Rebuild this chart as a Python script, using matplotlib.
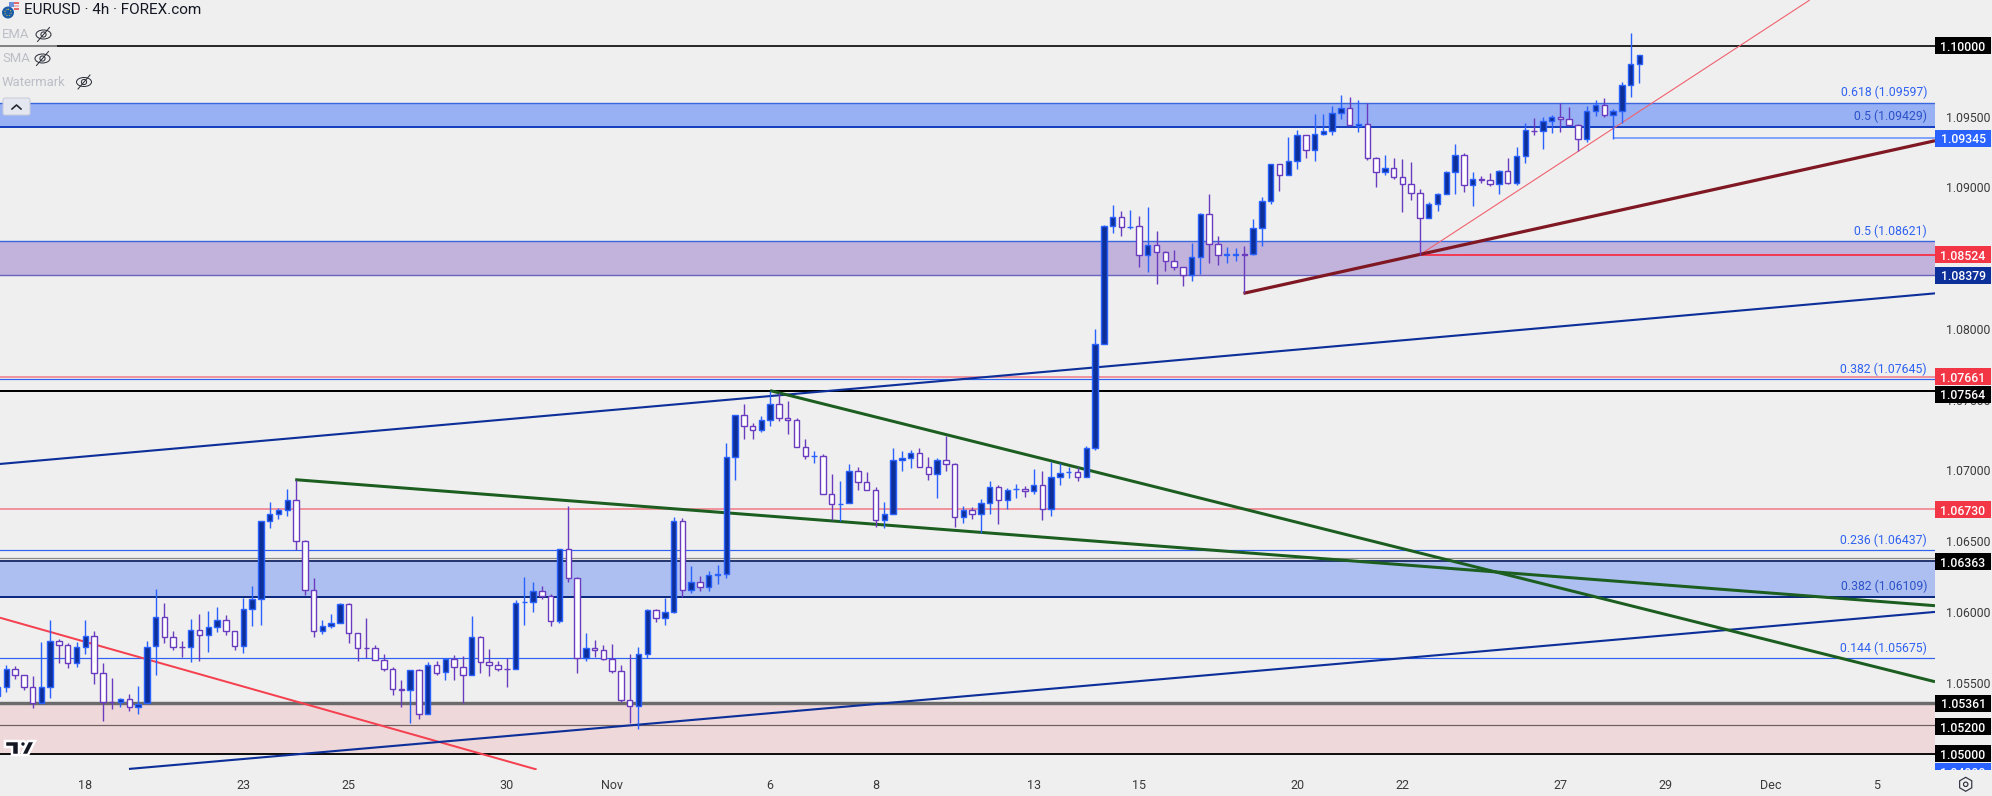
import matplotlib
matplotlib.use('Agg')
import numpy as np
import matplotlib.pyplot as plt
from matplotlib.patches import Rectangle, Circle, Ellipse, FancyBboxPatch, RegularPolygon, Polygon

plt.rcParams['font.family'] = ['Roboto', 'DejaVu Sans']

# 4h candles (first one is cut by the left edge)
opens = [
    1.05407,
    1.05468, 1.05596, 1.05553, 1.05468, 1.05355, 1.05468, 1.05793, 1.05765, 1.05638, 1.05751,
    1.05829, 1.05567, 1.05363, 1.05363, 1.05384, 1.05327, 1.05355, 1.05758, 1.05963, 1.05822,
    1.05756, 1.05751, 1.05871, 1.05836, 1.05892, 1.05942, 1.05864, 1.05758, 1.06019, 1.06090,
    1.06641, 1.06690, 1.06718, 1.06789, 1.06499, 1.06153, 1.05864, 1.05899, 1.05920, 1.06055,
    1.05850, 1.05744, 1.05744, 1.05659, 1.05596, 1.05454, 1.05447, 1.05589, 1.05278, 1.05624,
    1.05574, 1.05669, 1.05614, 1.05553, 1.05822, 1.05645, 1.05624, 1.05600, 1.05596, 1.06068,
    1.06069, 1.06146, 1.06111, 1.05935, 1.06448, 1.06238, 1.05673, 1.05744, 1.05730, 1.05666,
    1.05581, 1.05381, 1.05334, 1.05701, 1.06012, 1.05956, 1.05998, 1.06641, 1.06153, 1.06210,
    1.06175, 1.06265, 1.06266, 1.07093, 1.07389, 1.07312, 1.07283, 1.07354, 1.07467, 1.07368,
    1.07354, 1.07168, 1.07100, 1.07100, 1.06831, 1.06765, 1.06768, 1.06994, 1.06916, 1.06860,
    1.06648, 1.06690, 1.07072, 1.07086, 1.07121, 1.07022, 1.06973, 1.07072, 1.07043, 1.06669,
    1.06718, 1.06690, 1.06768, 1.06881, 1.06789, 1.06868, 1.06867, 1.06853, 1.06895, 1.06725,
    1.06951, 1.06986, 1.06987, 1.06951, 1.07156, 1.07891, 1.08724, 1.08788, 1.08721, 1.08724,
    1.08519, 1.08590, 1.08540, 1.08477, 1.08434, 1.08378, 1.08505, 1.08809, 1.08597, 1.08525,
    1.08525, 1.08526, 1.08526, 1.08710, 1.08901, 1.09162, 1.09084, 1.09183, 1.09367, 1.09261,
    1.09374, 1.09395, 1.09522, 1.09557, 1.09430, 1.09444, 1.09204, 1.09105, 1.09134, 1.09070,
    1.09021, 1.08957, 1.08781, 1.08879, 1.08950, 1.09105, 1.09225, 1.09014, 1.09056, 1.09049,
    1.09021, 1.09112, 1.09028, 1.09218, 1.09398, 1.09395, 1.09466, 1.09494, 1.09480, 1.09437,
    1.09338, 1.09536, 1.09579, 1.09508, 1.09536, 1.09720, 1.09868,
]
highs = [
    1.05468,
    1.05626, 1.05619, 1.05553, 1.05548, 1.05789, 1.05944, 1.05812, 1.05784, 1.05789, 1.05944,
    1.05864, 1.05638, 1.05534, 1.05393, 1.05421, 1.05478, 1.05793, 1.06161, 1.06062, 1.05864,
    1.05793, 1.05951, 1.05986, 1.06008, 1.06036, 1.05979, 1.05869, 1.06099, 1.06184, 1.06641,
    1.06777, 1.06735, 1.06869, 1.06933, 1.06509, 1.06238, 1.05944, 1.05986, 1.06066, 1.06062,
    1.05850, 1.05956, 1.05765, 1.05704, 1.05610, 1.05520, 1.05589, 1.05598, 1.05645, 1.05657,
    1.05669, 1.05697, 1.05690, 1.05972, 1.05831, 1.05739, 1.05652, 1.05673, 1.06085, 1.06248,
    1.06212, 1.06184, 1.06128, 1.06448, 1.06749, 1.06250, 1.05850, 1.05803, 1.05767, 1.05774,
    1.05626, 1.05704, 1.05751, 1.06022, 1.06022, 1.06099, 1.06669, 1.06662, 1.06325, 1.06255,
    1.06290, 1.06332, 1.07192, 1.07389, 1.07469, 1.07333, 1.07382, 1.07564, 1.07549, 1.07491,
    1.07368, 1.07220, 1.07137, 1.07114, 1.06975, 1.06926, 1.07046, 1.07022, 1.06989, 1.06881,
    1.06777, 1.07156, 1.07135, 1.07144, 1.07156, 1.07093, 1.07086, 1.07246, 1.07050, 1.06749,
    1.06740, 1.06796, 1.06923, 1.06895, 1.06874, 1.06904, 1.06890, 1.07010, 1.06994, 1.07057,
    1.07050, 1.07027, 1.07022, 1.07173, 1.07999, 1.08736, 1.08875, 1.08830, 1.08839, 1.08797,
    1.08858, 1.08691, 1.08550, 1.08557, 1.08434, 1.08604, 1.08816, 1.08952, 1.08656, 1.08576,
    1.08569, 1.08583, 1.08773, 1.08929, 1.09162, 1.09162, 1.09355, 1.09402, 1.09367, 1.09517,
    1.09517, 1.09571, 1.09652, 1.09637, 1.09616, 1.09593, 1.09211, 1.09228, 1.09207, 1.09200,
    1.09178, 1.08988, 1.08896, 1.08959, 1.09115, 1.09305, 1.09242, 1.09108, 1.09077, 1.09098,
    1.09122, 1.09207, 1.09284, 1.09454, 1.09489, 1.09496, 1.09510, 1.09593, 1.09567, 1.09444,
    1.09574, 1.09616, 1.09630, 1.09550, 1.09741, 1.10089, 1.09932,
]
lows = [
    1.05407,
    1.05438, 1.05530, 1.05450, 1.05325, 1.05355, 1.05393, 1.05643, 1.05605, 1.05614, 1.05704,
    1.05492, 1.05233, 1.05318, 1.05327, 1.05304, 1.05280, 1.05355, 1.05558, 1.05784, 1.05732,
    1.05685, 1.05647, 1.05657, 1.05718, 1.05859, 1.05840, 1.05732, 1.05713, 1.05904, 1.05909,
    1.06594, 1.06657, 1.06678, 1.06438, 1.06121, 1.05826, 1.05845, 1.05890, 1.05920, 1.05784,
    1.05657, 1.05673, 1.05659, 1.05581, 1.05417, 1.05332, 1.05219, 1.05247, 1.05278, 1.05558,
    1.05520, 1.05520, 1.05355, 1.05553, 1.05572, 1.05548, 1.05586, 1.05473, 1.05596, 1.05909,
    1.06000, 1.06095, 1.05902, 1.05925, 1.06212, 1.05572, 1.05657, 1.05685, 1.05661, 1.05570,
    1.05365, 1.05219, 1.05172, 1.05673, 1.05930, 1.05909, 1.05991, 1.06109, 1.06137, 1.06151,
    1.06151, 1.06198, 1.06243, 1.06935, 1.07222, 1.07222, 1.07269, 1.07316, 1.07352, 1.07260,
    1.07163, 1.07083, 1.07055, 1.06831, 1.06650, 1.06645, 1.06768, 1.06862, 1.06860, 1.06603,
    1.06596, 1.06690, 1.06996, 1.07020, 1.07022, 1.06933, 1.06806, 1.06996, 1.06603, 1.06631,
    1.06660, 1.06561, 1.06695, 1.06622, 1.06730, 1.06808, 1.06815, 1.06834, 1.06653, 1.06681,
    1.06897, 1.06949, 1.06928, 1.06951, 1.07144, 1.07891, 1.08679, 1.08658, 1.08708, 1.08439,
    1.08404, 1.08319, 1.08411, 1.08416, 1.08305, 1.08340, 1.08387, 1.08467, 1.08453, 1.08463,
    1.08482, 1.08251, 1.08519, 1.08587, 1.08884, 1.08976, 1.09084, 1.09131, 1.09209, 1.09188,
    1.09367, 1.09367, 1.09484, 1.09437, 1.09393, 1.09190, 1.09004, 1.09089, 1.09056, 1.08828,
    1.08910, 1.08522, 1.08781, 1.08835, 1.08950, 1.08952, 1.08966, 1.08868, 1.09030, 1.09009,
    1.08952, 1.09023, 1.09016, 1.09171, 1.09371, 1.09270, 1.09386, 1.09393, 1.09437, 1.09254,
    1.09320, 1.09503, 1.09499, 1.09343, 1.09451, 1.09640, 1.09734,
]
closes = [
    1.05468,
    1.05596, 1.05553, 1.05468, 1.05355, 1.05468, 1.05793, 1.05765, 1.05638, 1.05751, 1.05829,
    1.05567, 1.05363, 1.05362, 1.05384, 1.05327, 1.05353, 1.05756, 1.05963, 1.05822, 1.05756,
    1.05755, 1.05871, 1.05836, 1.05892, 1.05942, 1.05864, 1.05758, 1.06019, 1.06090, 1.06641,
    1.06690, 1.06718, 1.06789, 1.06499, 1.06153, 1.05864, 1.05899, 1.05920, 1.06055, 1.05850,
    1.05744, 1.05743, 1.05659, 1.05596, 1.05454, 1.05453, 1.05589, 1.05278, 1.05624, 1.05572,
    1.05669, 1.05614, 1.05553, 1.05822, 1.05645, 1.05624, 1.05600, 1.05599, 1.06062, 1.06069,
    1.06146, 1.06111, 1.05935, 1.06448, 1.06238, 1.05673, 1.05744, 1.05730, 1.05666, 1.05581,
    1.05381, 1.05334, 1.05701, 1.06012, 1.05956, 1.05998, 1.06641, 1.06153, 1.06210, 1.06175,
    1.06259, 1.06266, 1.07093, 1.07389, 1.07312, 1.07283, 1.07354, 1.07467, 1.07368, 1.07354,
    1.07168, 1.07100, 1.07101, 1.06831, 1.06761, 1.06766, 1.06994, 1.06916, 1.06860, 1.06648,
    1.06690, 1.07072, 1.07086, 1.07121, 1.07022, 1.06973, 1.07072, 1.07043, 1.06669, 1.06718,
    1.06690, 1.06768, 1.06881, 1.06789, 1.06860, 1.06869, 1.06853, 1.06895, 1.06725, 1.06951,
    1.06980, 1.06987, 1.06951, 1.07156, 1.07891, 1.08724, 1.08788, 1.08717, 1.08722, 1.08519,
    1.08590, 1.08540, 1.08477, 1.08434, 1.08378, 1.08505, 1.08809, 1.08597, 1.08519, 1.08526,
    1.08526, 1.08525, 1.08710, 1.08901, 1.09162, 1.09084, 1.09183, 1.09367, 1.09261, 1.09374,
    1.09395, 1.09522, 1.09557, 1.09437, 1.09444, 1.09204, 1.09105, 1.09134, 1.09070, 1.09021,
    1.08957, 1.08781, 1.08879, 1.08950, 1.09105, 1.09225, 1.09014, 1.09056, 1.09055, 1.09021,
    1.09112, 1.09028, 1.09218, 1.09402, 1.09397, 1.09466, 1.09494, 1.09480, 1.09437, 1.09338,
    1.09536, 1.09579, 1.09508, 1.09536, 1.09720, 1.09868, 1.09932,
]

# date labels on the time axis, by bar number
date_bars = [9, 27, 39, 57, 69, 87, 99, 117, 129, 147, 159, 177, 189, 201, 213]
date_labels = ['18', '23', '25', '30', 'Nov', '6', '8', '13', '15', '20', '22', '27', '29', 'Dec', '5']

# 1.05, 1.085 and 1.10 sit fully behind the boxes of the price scale
price_ticks = [1.055, 1.06, 1.065, 1.07, 1.075, 1.08, 1.09, 1.095]

# price zones (top, bottom)
zone_prices = [(1.09597, 1.09429), (1.08621, 1.08379), (1.06363, 1.06109), (1.05361, 1.05000)]
zone_colors = ['#98B0F4', '#C2B3DC', '#ADBFF1', '#EFD8DA']

# fib levels: text, price
fib_labels = ['0.618 (1.09597)', '0.5 (1.09429)', '0.5 (1.08621)', '0.382 (1.07645)',
              '0.236 (1.06437)', '0.382 (1.06109)', '0.144 (1.05675)']
fib_prices = [1.09597, 1.09429, 1.08621, 1.07645, 1.06437, 1.06109, 1.05675]
fib_colors = ['#2F62F0', '#2B52C8', '#2F62F0', '#2F62F0', '#2F62F0', '#2B52C8', '#2F62F0']

# trend lines: (bar, price) at each end
trend_ends = [
    ((-0.72, 1.05960), (60.4, 1.04888)),
    ((161, 1.08524), (205.4, 1.10323)),
    ((140.9, 1.08251), (219.66, 1.09329)),
    ((-0.72, 1.07046), (219.66, 1.08251)),
    ((13.97, 1.04892), (219.66, 1.06001)),
    ((32.9, 1.06935), (219.66, 1.06045)),
    ((87, 1.07564), (219.66, 1.05508)),
]
trend_colors = ['#F5414F', '#F0616F', '#7F1822', '#0D2F99', '#0D2F99', '#1B5E20', '#1B5E20']
trend_widths = [2.0, 1.1, 3.2, 2.1, 2.1, 3.0, 3.0]

# price scale labels
scale_texts = ['1.10000', '1.09345', '1.08524', '1.08379', '1.07661', '1.07564',
               '1.06730', '1.06363', '1.05361', '1.05200', '1.05000', '1.04880']
scale_y = [1.10000, 1.09345, 1.08524, 1.08379, 1.07661, 1.07538,
           1.06723, 1.06356, 1.05356, 1.05191, 1.04998, 1.04873]
scale_colors = ['#000000', '#2962FF', '#F23645', '#0D2F99', '#F23645', '#000000',
                '#F23645', '#000000', '#000000', '#000000', '#000000', '#2962FF']

BG = '#EFEFEF'
W, H = 1992, 796
px = 1 / 100 * 72  # one pixel in points at dpi 100
axis_right = 1935
axis_bottom = 769.5

fig = plt.figure(figsize=(W / 100, H / 100), dpi=100, facecolor=BG)
ax = fig.add_axes([0, 1 - axis_bottom / H, axis_right / W, axis_bottom / H], facecolor=BG)

ax.set_xlim(-0.7175, 219.66)
ax.set_ylim(1.04888, 1.10323)

# zones
for (top, bot), c in zip(zone_prices, zone_colors):
    ax.axhspan(bot, top, color=c, lw=0, zorder=1)

# horizontal levels
ax.axhline(1.10000, color='#2B2B2B', lw=2 * px, zorder=2)
ax.axhline(1.09597, color='#3A66E0', lw=1.4 * px, zorder=2)
ax.axhline(1.09429, color='#1740C0', lw=2 * px, zorder=2)
ax.axhline(1.08621, color='#3A66E0', lw=1.4 * px, zorder=2)
ax.axhline(1.08379, color='#6A63BE', lw=1.4 * px, zorder=2)
ax.axhline(1.07661, color='#F28A94', lw=1.8 * px, zorder=2)
ax.axhline(1.07645, color='#2F62F0', lw=1.2 * px, zorder=2)
ax.axhline(1.07564, color='#000000', lw=2 * px, zorder=2)
ax.axhline(1.06730, color='#F28A94', lw=1.8 * px, zorder=2)
ax.axhline(1.06437, color='#2F62F0', lw=1.2 * px, zorder=2)
ax.axhline(1.06380, color='#8A8A8A', lw=1.2 * px, zorder=2)
ax.axhline(1.06363, color='#26386F', lw=2 * px, zorder=2)
ax.axhline(1.06109, color='#0B2A80', lw=2 * px, zorder=2)
ax.axhline(1.05675, color='#2F62F0', lw=1.2 * px, zorder=2)
ax.axhline(1.05361, color='#6B6B6B', lw=3.4 * px, zorder=2)
ax.axhline(1.05200, color='#6B5F60', lw=1.2 * px, zorder=2)
ax.axhline(1.05000, color='#111111', lw=2 * px, zorder=2)
ax.plot([161, 219.66], [1.08524, 1.08524], color='#F23B55', lw=2 * px, zorder=2, solid_capstyle='butt')
ax.plot([183, 219.66], [1.09345, 1.09345], color='#82A4FA', lw=2 * px, zorder=2, solid_capstyle='butt')

# trend lines
for (a, b), c, lw in zip(trend_ends, trend_colors, trend_widths):
    ax.plot([a[0], b[0]], [a[1], b[1]], color=c, lw=lw * px, zorder=3, solid_capstyle='butt')

# candles
x = np.arange(len(opens)) - 1
o = np.array(opens)
c = np.array(closes)
up = c >= o
wick_colors = np.where(up, '#2962FF', '#6A3BBE')
ax.vlines(x, lows, highs, colors=wick_colors, lw=1.4 * px, zorder=5)
ax.bar(x, np.abs(c - o), bottom=np.minimum(o, c), width=0.62,
       color=np.where(up, '#0D2F99', '#FFFFFF'), edgecolor=wick_colors, lw=1.4 * px, zorder=6)

# fib texts sit just above their levels
for t, p, col in zip(fib_labels, fib_prices, fib_colors):
    ax.annotate(t, xy=(1, p), xycoords=ax.get_yaxis_transform(), xytext=(-8, 10),
                textcoords='offset pixels', ha='right', va='center', color=col,
                fontsize=12.3 * px, zorder=7)

for s in ax.spines.values():
    s.set_visible(False)

ax.yaxis.tick_right()
ax.set_yticks(price_ticks)
ax.set_yticklabels(['%.5f' % v for v in price_ticks], fontsize=12.3 * px, color='#3A3A3A')
ax.tick_params(axis='y', length=0, pad=8)
ax.set_xticks(date_bars)
ax.set_xticklabels(date_labels, fontsize=12.5 * px, color='#3A3A3A')
ax.tick_params(axis='x', length=0, pad=7)

# price scale boxes
ax_r = fig.add_axes([axis_right / W, 1 - axis_bottom / H, (W - axis_right - 1) / W, axis_bottom / H])
ax_r.patch.set_visible(False)
ax_r.set_xlim(0, 1)
ax_r.set_ylim(ax.get_ylim())
ax_r.axis('off')
box_h = 17 / 14160
for t, y, col in zip(scale_texts, scale_y, scale_colors):
    ax_r.add_patch(Rectangle((0, y - box_h / 2), 1, box_h, color=col, lw=0))
    ax_r.text(0.5, y, t, color='white', ha='center', va='center_baseline',
              fontsize=12.3 * px, fontweight='medium', clip_on=True)

# header, logo and other bits of the chart window, laid out in pixels
ax_p = fig.add_axes([0, 0, 1, 1])
ax_p.patch.set_visible(False)
ax_p.set_xlim(0, W)
ax_p.set_ylim(H, 0)
ax_p.axis('off')

ax_p.add_patch(Rectangle((0, 44), 57, 4, color=BG, alpha=0.45, lw=0))
ax_p.text(24, 10.5, 'EURUSD · 4h · FOREX.com', fontsize=15.3 * px, color='#131722', va='center')
ax_p.add_patch(Circle((14, 6), 5.5, color='#E9EEF8', lw=0))
for yy, cc in zip([3, 6, 9], ['#E56B6B', '#F2B5B5', '#E56B6B']):
    ax_p.add_patch(Rectangle((14, yy - 0.8), 5, 1.6, color=cc, lw=0))
ax_p.add_patch(Rectangle((9, 1.5), 5, 5, color='#6C8FD9', lw=0))
ax_p.add_patch(Circle((8, 12.5), 6, color='#1A5CA8', lw=0))
ax_p.add_patch(Circle((8, 12.5), 3.2, fill=False, ec='#E7C93A', lw=1 * px, ls=':'))

legend_names = ['EMA', 'SMA', 'Watermark']
legend_y = [34.5, 58.5, 82]
legend_eye = [43.5, 42.5, 84]
for name, yy, ex in zip(legend_names, legend_y, legend_eye):
    ax_p.text(2, yy, name, fontsize=13 * px, color='#BCBEC6', va='center')
    ax_p.add_patch(Ellipse((ex, yy), 15, 9, fill=False, ec='#2A2E39', lw=1 * px))
    ax_p.add_patch(Circle((ex, yy), 2.6, fill=False, ec='#2A2E39', lw=1 * px))
    ax_p.plot([ex - 6, ex + 6], [yy + 7, yy - 7], color='#2A2E39', lw=1 * px)

ax_p.add_patch(FancyBboxPatch((3, 98), 27, 17, boxstyle='round,pad=0,rounding_size=2',
                              fc='#E4E7F0', ec='#C9CDD8', lw=1 * px))
ax_p.plot([12, 16.5, 21], [109, 105, 109], color='#20242E', lw=1.6 * px)

# TV logo
outline = dict(ec='white', lw=2.5 * px, joinstyle='miter')
ax_p.add_patch(Polygon([(5, 741), (19, 741), (19, 755), (12, 755), (12, 747), (5, 747)], fc='#131722', **outline))
ax_p.add_patch(Circle((23, 744), 3, fc='#131722', **outline))
ax_p.add_patch(Polygon([(28, 741), (35, 741), (28, 755), (21, 755)], fc='#131722', **outline))

# settings button
ax_p.add_patch(RegularPolygon((1965.7, 784.3), 6, radius=7, fill=False, ec='#30343F', lw=1.2 * px))
ax_p.add_patch(Circle((1965.7, 784.3), 2.2, fill=False, ec='#30343F', lw=1.2 * px))

fig.savefig('out.png', dpi=100, facecolor=BG)
